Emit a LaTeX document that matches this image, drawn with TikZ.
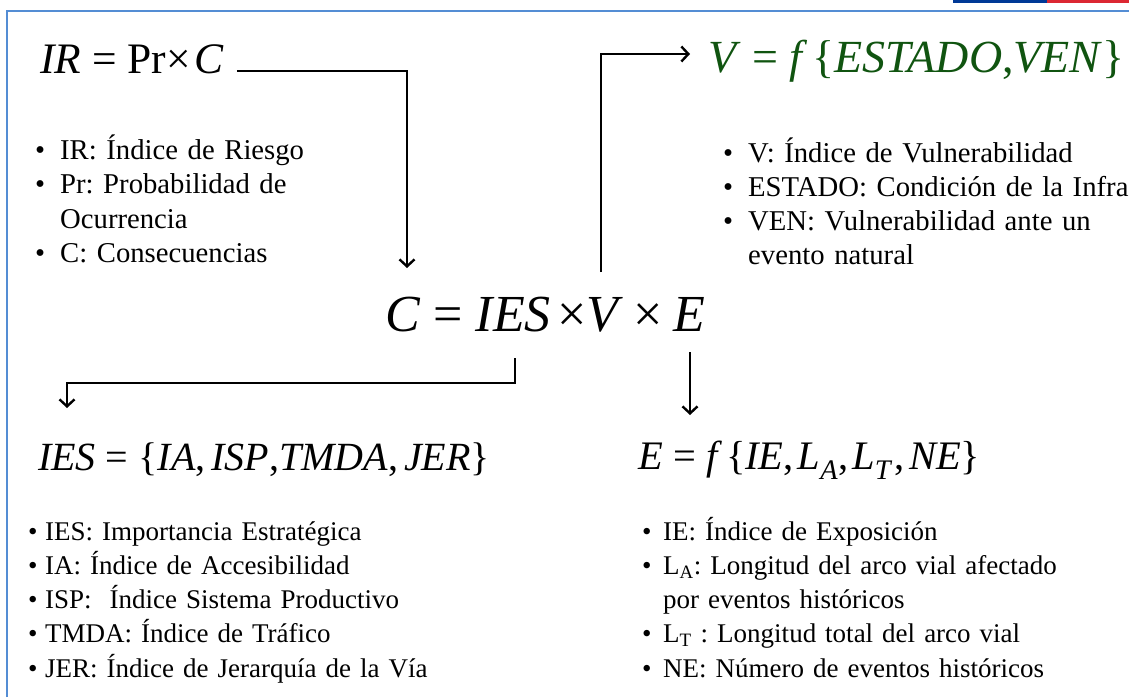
\documentclass[tikz,border=0pt]{standalone}
\usepackage{fontspec}
\setmainfont{Liberation Serif}
\usetikzlibrary{arrows.meta}

\definecolor{frameblue}{RGB}{84,141,212}
\definecolor{eqgreen}{RGB}{16,84,16}
\definecolor{flagblue}{RGB}{0,57,150}
\definecolor{flagred}{RGB}{220,40,50}

% bullet line with hanging indent
\newcommand{\bitem}[2][25pt]{\hangindent=#1\hangafter=1\makebox[#1][l]{•}#2\par}
\newcommand{\brk}{\hfil\break}
\frenchspacing

\tikzset{
  formula/.style={anchor=base west, inner sep=0pt},
  bullets/.style={anchor=base west, inner sep=0pt, align=left},
  conn/.style={line width=2.4pt, -{Straight Barb[length=7pt,width=15pt]}},
  frame/.style={frameblue, line width=2pt}
}

\begin{document}
\begin{tikzpicture}[x=1pt, y=-1pt]
  \useasboundingbox (0,0) rectangle (1129,697);
  \draw[frame] (7,697) -- (7,11) -- (1129,11);
  \fill[flagblue] (953,0) rectangle (1047,2.5);
  \fill[flagred] (1047,0) rectangle (1129,2.5);

  % formulas
  \node[formula, font=\fontsize{43.5}{52}\selectfont] (ir) at (40,73)
    {\textit{IR} = Pr×\hspace{0.08em}\textit{C}};
  \node[formula, font=\fontsize{46}{55}\selectfont, text=eqgreen] (vf) at (708,72)
    {\textit{V} = \textit{f}\hspace{0.1em}\{\textit{ESTADO},\textit{VEN}\}};
  \node[formula, font=\fontsize{52}{60}\selectfont] (cf) at (385,331)
    {\textit{C} = \textit{IES}\hspace{0.12em}×\textit{V}\hspace{0.2em}×\hspace{0.2em}\textit{E}};
  \node[formula, font=\fontsize{40}{48}\selectfont] (ies) at (38,470)
    {\textit{IES} = \{\textit{IA},\hspace{0.15em}\textit{ISP},\textit{TMDA},\hspace{0.15em}\textit{JER}\}};
  \node[formula, font=\fontsize{40.5}{48}\selectfont] (ef) at (638,469)
    {\textit{E} = \textit{f}\hspace{0.1em}\{\textit{IE},\hspace{0.1em}\textit{L}\textsubscript{\textit{A}},\hspace{0.1em}\textit{L}\textsubscript{\textit{T}}\hspace{0.05em},\hspace{0.1em}\textit{NE}\}};

  % definitions
  \node[bullets, text width=300pt, font=\fontsize{28.7}{34.5}\selectfont] (irlist) at (35,159) {%
    \bitem{IR: Índice de Riesgo}
    \bitem{Pr: Probabilidad de\brk Ocurrencia}
    \bitem{C: Consecuencias}};
  \node[bullets, text width=410pt, font=\fontsize{28.7}{34}\selectfont] (vlist) at (723,162) {%
    \bitem{V: Índice de Vulnerabilidad}
    \bitem{ESTADO: Condición de la Infra}
    \bitem{VEN: Vulnerabilidad ante un\brk evento natural}};
  \node[bullets, text width=420pt, font=\fontsize{27}{34.25}\selectfont] (ieslist) at (28,540) {%
    \bitem[17pt]{IES: Importancia Estratégica}
    \bitem[17pt]{IA: Índice de Accesibilidad}
    \bitem[17pt]{ISP:\ \ Índice Sistema Productivo}
    \bitem[17pt]{TMDA: Índice de Tráfico}
    \bitem[17pt]{JER: Índice de Jerarquía de la Vía}};
  \node[bullets, text width=430pt, font=\fontsize{27}{34.25}\selectfont] (elist) at (642,540) {%
    \bitem[21pt]{IE: Índice de Exposición}
    \bitem[21pt]{\makebox[394pt][s]{L\textsubscript{A}: Longitud del arco vial afectado}\brk por eventos históricos}
    \bitem[21pt]{L\textsubscript{T} : Longitud total del arco vial}
    \bitem[21pt]{NE: Número de eventos históricos}};

  % connectors
  \coordinate (cin) at (407,268);
  \coordinate (cout) at (601,272);
  \coordinate (vin) at (690,54);
  \coordinate (iesout) at (515,358);
  \coordinate (iesin) at (67,408);
  \coordinate (eout) at (690,352);
  \coordinate (ein) at (690,415);
  \draw[conn] ([xshift=13pt]ir.mid east) -| (cin);
  \draw[conn] (cout) |- (vin);
  \draw[conn] (iesout) -- ++(0,25) -| (iesin);
  \draw[conn] (eout) -- (ein);
\end{tikzpicture}
\end{document}
